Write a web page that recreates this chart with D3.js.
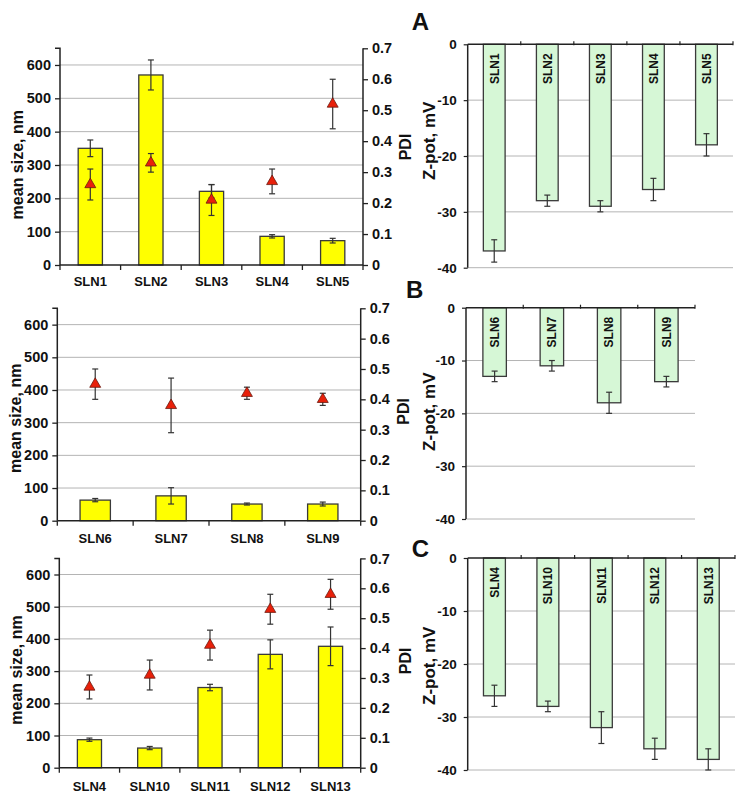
<!DOCTYPE html>
<html><head><meta charset="utf-8">
<script src="https://cdn.jsdelivr.net/npm/d3@7"></script>
<style>
body{margin:0;background:#fff;}
svg{font-family:"Liberation Sans",Arial,sans-serif;font-weight:bold;}
</style></head><body>
<svg id="c" width="754" height="799"></svg>
<script>
// ---------- data ----------
const catsA = ["SLN1","SLN2","SLN3","SLN4","SLN5"];
const sizeA = [350,570,221,86,73];
const sizeErrA = [25,45,20,5,7];
const pdiA = [0.26,0.33,0.21,0.27,0.52];
const pdiErrA = [0.05,0.03,0.05,0.04,0.08];
const zetaA = [-37,-28,-29,-26,-18];
const zetaErrA = [2,1,1,2,2];

const catsB = ["SLN6","SLN7","SLN8","SLN9"];
const sizeB = [63,76,51,51];
const sizeErrB = [5,25,3,6];
const pdiB = [0.45,0.38,0.42,0.40];
const pdiErrB = [0.05,0.09,0.02,0.02];
const zetaB = [-13,-11,-18,-14];
const zetaErrB = [1,1,2,1];

const catsC = ["SLN4","SLN10","SLN11","SLN12","SLN13"];
const sizeC = [87,61,249,352,377];
const sizeErrC = [5,5,10,45,60];
const pdiC = [0.27,0.31,0.41,0.53,0.58];
const pdiErrC = [0.04,0.05,0.05,0.05,0.05];
const zetaC = [-26,-28,-32,-36,-38];
const zetaErrC = [2,1,3,2,2];

const panelLetters = ["A","B","C"];
const sizeTicks = [0,100,200,300,400,500,600];
const pdiTicks = [0,0.1,0.2,0.3,0.4,0.5,0.6,0.7];
const zetaTicks = [0,-10,-20,-30,-40];
const sizeTitle = "mean size, nm";
const pdiTitle = "PDI";
const zetaTitle = "Z-pot, mV";

// ---------- layout ----------
const layout = [
  {L:{x0:60,x1:363,yt:48.3,yb:265,lab:11.7,tx:17.5,ty:164.7,px:405,py:147},
   R:{x0:467.7,x1:733,yt:44.3,yb:267.7,tx:429.5,ty:140.8}, lp:[411.7,30]},
  {L:{x0:57.3,x1:360.7,yt:308.3,yb:520.7,lab:13,tx:15,ty:418.3,px:403.5,py:411.3},
   R:{x0:466,x1:695,yt:307.7,yb:519,tx:429,ty:411.7}, lp:[406,298.3]},
  {L:{x0:59.3,x1:360.7,yt:558.4,yb:767.7,lab:13.8,tx:16.7,ty:670,px:405.8,py:660.8},
   R:{x0:467.7,x1:735,yt:558,yb:770,tx:429,ty:665.8}, lp:[411.7,556.7]}
];
const panels = [
  {cats:catsA,size:sizeA,sizeErr:sizeErrA,pdi:pdiA,pdiErr:pdiErrA,zeta:zetaA,zetaErr:zetaErrA},
  {cats:catsB,size:sizeB,sizeErr:sizeErrB,pdi:pdiB,pdiErr:pdiErrB,zeta:zetaB,zetaErr:zetaErrB},
  {cats:catsC,size:sizeC,sizeErr:sizeErrC,pdi:pdiC,pdiErr:pdiErrC,zeta:zetaC,zetaErr:zetaErrC}
];

const svg = d3.select("#c");
const AX = "#222", GRID = "#b4b4b4", ERR = "#333";

function errBar(g, x, y1, y2, cap){
  g.append("line").attr("x1",x).attr("x2",x).attr("y1",y1).attr("y2",y2)
    .attr("stroke",ERR).attr("stroke-width",1.2);
  [y1,y2].forEach(y=>g.append("line").attr("x1",x-cap/2).attr("x2",x+cap/2)
    .attr("y1",y).attr("y2",y).attr("stroke",ERR).attr("stroke-width",1.2));
}

panels.forEach((p,i)=>{
  const lay = layout[i];
  // ----- left chart -----
  const L = lay.L;
  const gL = svg.append("g");
  const x = d3.scaleBand().domain(p.cats).range([L.x0,L.x1]).paddingInner(0.6).paddingOuter(0.3);
  const y = d3.scaleLinear().domain([0,650]).range([L.yb,L.yt]);
  const y2 = d3.scaleLinear().domain([0,0.7]).range([L.yb,L.yt]);
  gL.selectAll(".g").data(sizeTicks.slice(1)).join("line")
    .attr("x1",L.x0).attr("x2",L.x1).attr("y1",d=>y(d)).attr("y2",d=>y(d))
    .attr("stroke",GRID).attr("stroke-width",1);
  gL.selectAll(".b").data(p.cats).join("rect")
    .attr("x",d=>x(d)).attr("width",x.bandwidth())
    .attr("y",(d,j)=>y(p.size[j])).attr("height",(d,j)=>y(0)-y(p.size[j]))
    .attr("fill","#ffff00").attr("stroke","#3a3a3a").attr("stroke-width",1.3);
  p.cats.forEach((c,j)=>{
    errBar(gL, x(c)+x.bandwidth()/2, y(p.size[j]+p.sizeErr[j]), y(p.size[j]-p.sizeErr[j]), 6);
  });
  const ax1 = gL.append("g").attr("transform",`translate(${L.x0},0)`)
    .call(d3.axisLeft(y).tickValues(sizeTicks).tickSize(5).tickPadding(4).tickFormat(d3.format("d")));
  ax1.select(".domain").attr("d",`M-5,${y(650)}H0V${y(0)}`);
  const ax2 = gL.append("g").attr("transform",`translate(${L.x1},0)`)
    .call(d3.axisRight(y2).tickValues(pdiTicks).tickSize(5).tickPadding(4).tickFormat(d=>d===0?"0":d3.format(".1f")(d)));
  ax2.select(".domain").attr("d",`M0,${y2(0.7)}V${y2(0)}`);
  const ax3 = gL.append("g").attr("transform",`translate(0,${L.yb})`)
    .call(d3.axisBottom(x).tickSize(0).tickPadding(L.lab));
  ax3.select(".domain").attr("d",`M${L.x0},0H${L.x1}`);
  d3.range(p.cats.length+1).forEach(k=>{
    const bx = L.x0 + k*(L.x1-L.x0)/p.cats.length;
    gL.append("line").attr("x1",bx).attr("x2",bx)
      .attr("y1",L.yb).attr("y2",L.yb+5).attr("stroke",AX).attr("stroke-width",1.3);
  });
  [ax1,ax2,ax3].forEach(a=>{
    a.selectAll(".domain").attr("stroke",AX).attr("stroke-width",1.5).attr("fill","none");
    a.selectAll(".tick line").attr("stroke",AX).attr("stroke-width",1.3);
    a.selectAll("text").attr("fill","#111").style("font-family","'Liberation Sans',Arial,sans-serif").style("font-weight","bold");
  });
  ax1.selectAll("text").style("font-size","14.5px");
  ax2.selectAll("text").style("font-size","14.5px");
  ax3.selectAll("text").style("font-size","13px");
  p.cats.forEach((c,j)=>{
    const cx = x(c)+x.bandwidth()/2;
    errBar(gL, cx, y2(p.pdi[j]+p.pdiErr[j]), y2(p.pdi[j]-p.pdiErr[j]), 6);
  });
  gL.selectAll(".t").data(p.cats).join("path")
    .attr("d",d3.symbol(d3.symbolTriangle,52))
    .attr("transform",(d,j)=>`translate(${x(d)+x.bandwidth()/2},${y2(p.pdi[j])})`)
    .attr("fill","#e8200a").attr("stroke","#6a1a10").attr("stroke-width",0.8);
  gL.append("text").attr("transform",`translate(${L.tx},${L.ty}) rotate(-90)`)
    .attr("text-anchor","middle").attr("dy","0.35em").style("font-size","16px").attr("fill","#111").text(sizeTitle);
  gL.append("text").attr("transform",`translate(${L.px},${L.py}) rotate(-90)`)
    .attr("text-anchor","middle").attr("dy","0.35em").style("font-size","16px").attr("fill","#111").text(pdiTitle);

  // ----- right chart -----
  const R = lay.R;
  const gR = svg.append("g");
  const xr = d3.scaleBand().domain(p.cats).range([R.x0,R.x1]).paddingInner(0.59).paddingOuter(0.295);
  const yr = d3.scaleLinear().domain([-40,0]).range([R.yb,R.yt]);
  gR.selectAll(".g").data(zetaTicks.slice(1)).join("line")
    .attr("x1",R.x0).attr("x2",R.x1).attr("y1",d=>yr(d)).attr("y2",d=>yr(d))
    .attr("stroke",GRID).attr("stroke-width",1);
  gR.selectAll(".b").data(p.cats).join("rect")
    .attr("x",d=>xr(d)).attr("width",xr.bandwidth())
    .attr("y",yr(0)).attr("height",(d,j)=>yr(p.zeta[j])-yr(0))
    .attr("fill","#d6f7d6").attr("stroke","#3a3a3a").attr("stroke-width",1.3);
  p.cats.forEach((c,j)=>{
    errBar(gR, xr(c)+xr.bandwidth()/2, yr(p.zeta[j]+p.zetaErr[j]), yr(p.zeta[j]-p.zetaErr[j]), 6);
  });
  gR.selectAll(".lbl").data(p.cats).join("text")
    .attr("transform",d=>`translate(${xr(d)+xr.bandwidth()/2},${yr(0)+9}) rotate(-90)`)
    .attr("text-anchor","end").attr("dy","0.36em").style("font-size","12px").attr("fill","#111").text(d=>d);
  const ay = gR.append("g").attr("transform",`translate(${R.x0},0)`)
    .call(d3.axisLeft(yr).tickValues(zetaTicks).tickSize(4).tickPadding(7).tickFormat(d=>String(d)));
  ay.select(".domain").attr("d",`M0,${yr(0)}V${yr(-40)}`);
  ay.selectAll(".domain").attr("stroke",AX).attr("stroke-width",1.5).attr("fill","none");
  ay.selectAll(".tick line").attr("stroke",AX).attr("stroke-width",1.2);
  ay.selectAll("text").attr("fill","#111").style("font-size","13.5px")
    .style("font-family","'Liberation Sans',Arial,sans-serif").style("font-weight","bold");
  gR.append("line").attr("x1",R.x0).attr("x2",R.x1).attr("y1",yr(0)).attr("y2",yr(0))
    .attr("stroke",AX).attr("stroke-width",1.5);
  d3.range(1,p.cats.length+1).forEach(k=>{
    const bx = R.x0 + k*(R.x1-R.x0)/p.cats.length;
    gR.append("line").attr("x1",bx).attr("x2",bx).attr("y1",yr(0)-3).attr("y2",yr(0)+1)
      .attr("stroke",AX).attr("stroke-width",1.2);
  });
  gR.append("text").attr("transform",`translate(${R.tx},${R.ty}) rotate(-90)`)
    .attr("text-anchor","middle").attr("dy","0.35em").style("font-size","17px").attr("fill","#111").text(zetaTitle);
  svg.append("text").attr("x",lay.lp[0]).attr("y",lay.lp[1]).style("font-size","24px")
    .attr("fill","#111").text(panelLetters[i]);
});
</script>
</body></html>
